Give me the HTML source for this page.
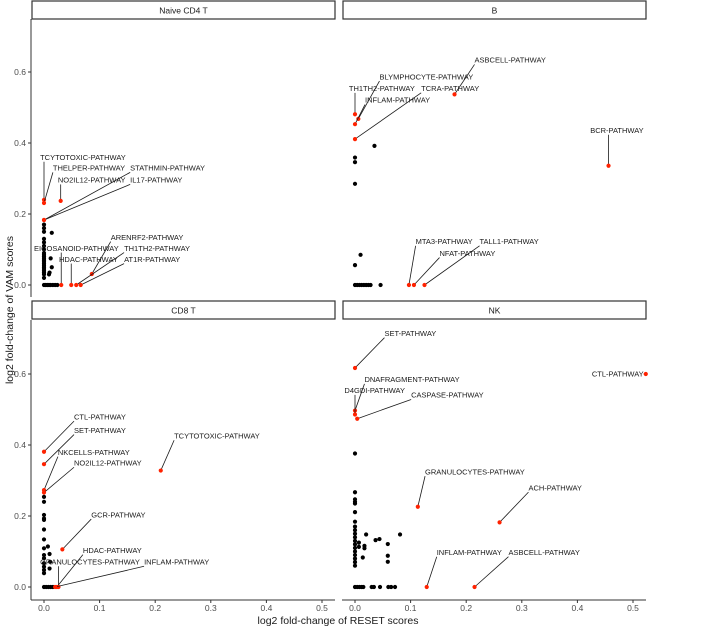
<!DOCTYPE html>
<html><head><meta charset="utf-8"><style>
body{margin:0;background:#fff;}
svg{display:block;font-family:"Liberation Sans",sans-serif;}
</style></head><body>
<svg id="chart" width="720" height="627"></svg>
<script>
// ---- data ----
const panelNames = ["Naive CD4 T","B","CD8 T","NK"];
const xTicks = [0,0.1,0.2,0.3,0.4,0.5];
const yTicks = [0,0.2,0.4,0.6];
// black points per panel: [x, y]
const cd4Black = [[0,0.17],[0,0.16],[0,0.15],[0,0.13],[0,0.12],[0,0.11],[0,0.1],[0,0.09],[0,0.085],[0,0.08],[0,0.075],[0,0.07],[0,0.065],[0,0.06],[0,0.055],[0,0.05],[0,0.045],[0,0.04],[0,0.035],[0,0.03],[0,0.02],[0.014,0.147],[0.012,0.075],[0.014,0.05],[0.01,0.035],[0.009,0.03],[0,0],[0.003,0],[0.006,0],[0.009,0],[0.012,0],[0.016,0],[0.02,0],[0.024,0]];
const bBlack = [[0.035,0.392],[0,0.359],[0,0.346],[0,0.285],[0.01,0.085],[0,0.056],[0,0],[0.004,0],[0.008,0],[0.012,0],[0.016,0],[0.02,0],[0.024,0],[0.028,0],[0.046,0]];
const cd8Black = [[0,0.254],[0,0.24],[0,0.203],[0,0.193],[0,0.189],[0,0.162],[0,0.134],[0,0.109],[0,0.09],[0,0.081],[0,0.067],[0,0.057],[0,0.048],[0,0.039],[0.007,0.114],[0.01,0.093],[0.011,0.071],[0.01,0.052],[0,0],[0.004,0],[0.008,0],[0.012,0],[0.016,0]];
const nkBlack = [[0,0.376],[0,0.267],[0,0.247],[0,0.24],[0,0.235],[0,0.211],[0,0.184],[0,0.17],[0,0.16],[0,0.15],[0,0.14],[0,0.13],[0,0.12],[0,0.11],[0,0.1],[0,0.09],[0,0.08],[0,0.07],[0,0.06],[0.02,0.148],[0.081,0.148],[0.037,0.132],[0.044,0.135],[0.059,0.121],[0.017,0.116],[0.007,0.125],[0.017,0.109],[0.059,0.088],[0.059,0.071],[0.014,0.083],[0.007,0.113],[0,0],[0.004,0],[0.008,0],[0.012,0],[0.015,0],[0.03,0],[0.034,0],[0.045,0],[0.06,0],[0.065,0],[0.072,0]];
// red labelled points: [x, y, label, labelX, labelY]
const cd4Red = [[0,0.24,"TCYTOTOXIC-PATHWAY",-0.007,0.36],[0,0.231,"THELPER-PATHWAY",0.016,0.33],[0.03,0.237,"NO2IL12-PATHWAY",0.025,0.296],[0,0.183,"STATHMIN-PATHWAY",0.155,0.33],[0,0.183,"IL17-PATHWAY",0.155,0.296],[0.086,0.031,"ARENRF2-PATHWAY",0.12,0.135],[0.058,0,"TH1TH2-PATHWAY",0.144,0.104],[0.066,0,"AT1R-PATHWAY",0.144,0.073],[0.031,0,"EICOSANOID-PATHWAY",-0.018,0.104],[0.049,0,"HDAC-PATHWAY",0.027,0.073]];
const bRed = [[0.179,0.537,"ASBCELL-PATHWAY",0.215,0.634],[0.006,0.468,"BLYMPHOCYTE-PATHWAY",0.044,0.587],[0,0.481,"TH1TH2-PATHWAY",-0.011,0.554],[0,0.411,"TCRA-PATHWAY",0.119,0.554],[0,0.453,"INFLAM-PATHWAY",0.018,0.521],[0.456,0.336,"BCR-PATHWAY",0.423,0.436],[0.097,0,"MTA3-PATHWAY",0.109,0.123],[0.106,0,"NFAT-PATHWAY",0.152,0.09],[0.125,0,"TALL1-PATHWAY",0.224,0.123]];
const cd8Red = [[0,0.381,"CTL-PATHWAY",0.054,0.48],[0,0.346,"SET-PATHWAY",0.054,0.442],[0,0.273,"NKCELLS-PATHWAY",0.025,0.38],[0,0.266,"NO2IL12-PATHWAY",0.054,0.35],[0.21,0.328,"TCYTOTOXIC-PATHWAY",0.234,0.426],[0.033,0.106,"GCR-PATHWAY",0.085,0.204],[0.023,0,"HDAC-PATHWAY",0.07,0.104],[0.026,0,"GRANULOCYTES-PATHWAY",-0.007,0.071],[0.02,0,"INFLAM-PATHWAY",0.18,0.071]];
const nkRed = [[0,0.617,"SET-PATHWAY",0.053,0.715],[0,0.497,"DNAFRAGMENT-PATHWAY",0.017,0.585],[0,0.486,"D4GDI-PATHWAY",-0.019,0.554],[0.004,0.474,"CASPASE-PATHWAY",0.101,0.541],[0.523,0.6,"CTL-PATHWAY",0.426,0.6],[0.113,0.226,"GRANULOCYTES-PATHWAY",0.126,0.325],[0.26,0.182,"ACH-PATHWAY",0.312,0.28],[0.129,0,"INFLAM-PATHWAY",0.147,0.098],[0.215,0,"ASBCELL-PATHWAY",0.276,0.098]];

const NS="http://www.w3.org/2000/svg";
const svg=document.getElementById("chart");
function mk(tag,attrs,parent){const e=document.createElementNS(NS,tag);for(const k in attrs)e.setAttribute(k,attrs[k]);(parent||svg).appendChild(e);return e;}

const panels=[
 {name:panelNames[0],x0:44,left:32,right:335,zero:285,top:19,bottom:297,strip:1,black:cd4Black,red:cd4Red,yaxis:true,xaxis:false},
 {name:panelNames[1],x0:355,left:343,right:646,zero:285,top:19,bottom:297,strip:1,black:bBlack,red:bRed,yaxis:false,xaxis:false},
 {name:panelNames[2],x0:44,left:32,right:335,zero:587,top:320,bottom:600,strip:301,black:cd8Black,red:cd8Red,yaxis:true,xaxis:true},
 {name:panelNames[3],x0:355,left:343,right:646,zero:587,top:320,bottom:600,strip:301,black:nkBlack,red:nkRed,yaxis:false,xaxis:true}
];
const XS=556, YS=355;

panels.forEach((p,i)=>{
 const sx=v=>p.x0+v*XS, sy=v=>p.zero-v*YS;
 const g=mk("g",{});
 
 
 const st=mk("rect",{x:p.left,y:p.strip,width:p.right-p.left,height:18,fill:"#fff",stroke:"#333","stroke-width":1.2},g);
 
 
 const stt=mk("text",{x:(p.left+p.right)/2,y:p.strip+12.5,"font-size":8.5,"text-anchor":"middle",fill:"#1a1a1a"},g);
 stt.textContent=p.name;
 
 
 if(p.yaxis){
  const ax=mk("line",{x1:31,x2:31,y1:p.top,y2:p.bottom,stroke:"#333","stroke-width":1},g);
  
  
  yTicks.forEach(t=>{
   mk("line",{x1:28,x2:31,y1:sy(t),y2:sy(t),stroke:"#333"},g);
   const tl=mk("text",{x:26,y:sy(t)+3,"font-size":8.5,"text-anchor":"end",fill:"#4d4d4d"},g);
   tl.textContent=t.toFixed(1);
   
   
  });
 }
 if(p.xaxis){
  const ax=mk("line",{x1:p.left-1,x2:p.right,y1:600,y2:600,stroke:"#333","stroke-width":1},g);
  
  
  xTicks.forEach(t=>{
   mk("line",{x1:sx(t),x2:sx(t),y1:600,y2:603,stroke:"#333"},g);
   const tl=mk("text",{x:sx(t),y:611,"font-size":8.5,"text-anchor":"middle",fill:"#4d4d4d"},g);
   tl.textContent=t.toFixed(1);
   
   
  });
 }
 p.black.forEach(d=>{
  const c=mk("circle",{cx:sx(d[0]),cy:sy(d[1]),r:2.1,fill:"#000"},g);
  
  
 });
 p.red.forEach(d=>{
  const px=sx(d[0]),py=sy(d[1]);
  const t=mk("text",{x:sx(d[3]),y:sy(d[4])+2.7,"font-size":7.5,fill:"#1a1a1a"},g);
  t.textContent=d[2];
  
  
  const w=t.getComputedTextLength();
  const bx0=sx(d[3]),bx1=bx0+w,by0=sy(d[4])-4.5,by1=sy(d[4])+4.5;
  const ex=Math.max(bx0,Math.min(px,bx1)),ey=Math.max(by0,Math.min(py,by1));
  const ln=mk("line",{x1:px,y1:py,x2:ex,y2:ey,stroke:"#1a1a1a","stroke-width":0.8},g);
  
  
  const c=mk("circle",{cx:px,cy:py,r:2.1,fill:"#ff2200"},g);
  
  
 });
});
const xt=mk("text",{x:338,y:624,"font-size":10.5,"text-anchor":"middle",fill:"#1a1a1a"});
xt.textContent="log2 fold-change of RESET scores";


const yt=mk("text",{x:0,y:0,"font-size":10.5,"text-anchor":"middle",fill:"#1a1a1a",transform:"translate(13,310) rotate(-90)"});
yt.textContent="log2 fold-change of VAM scores";


</script>
</body></html>
